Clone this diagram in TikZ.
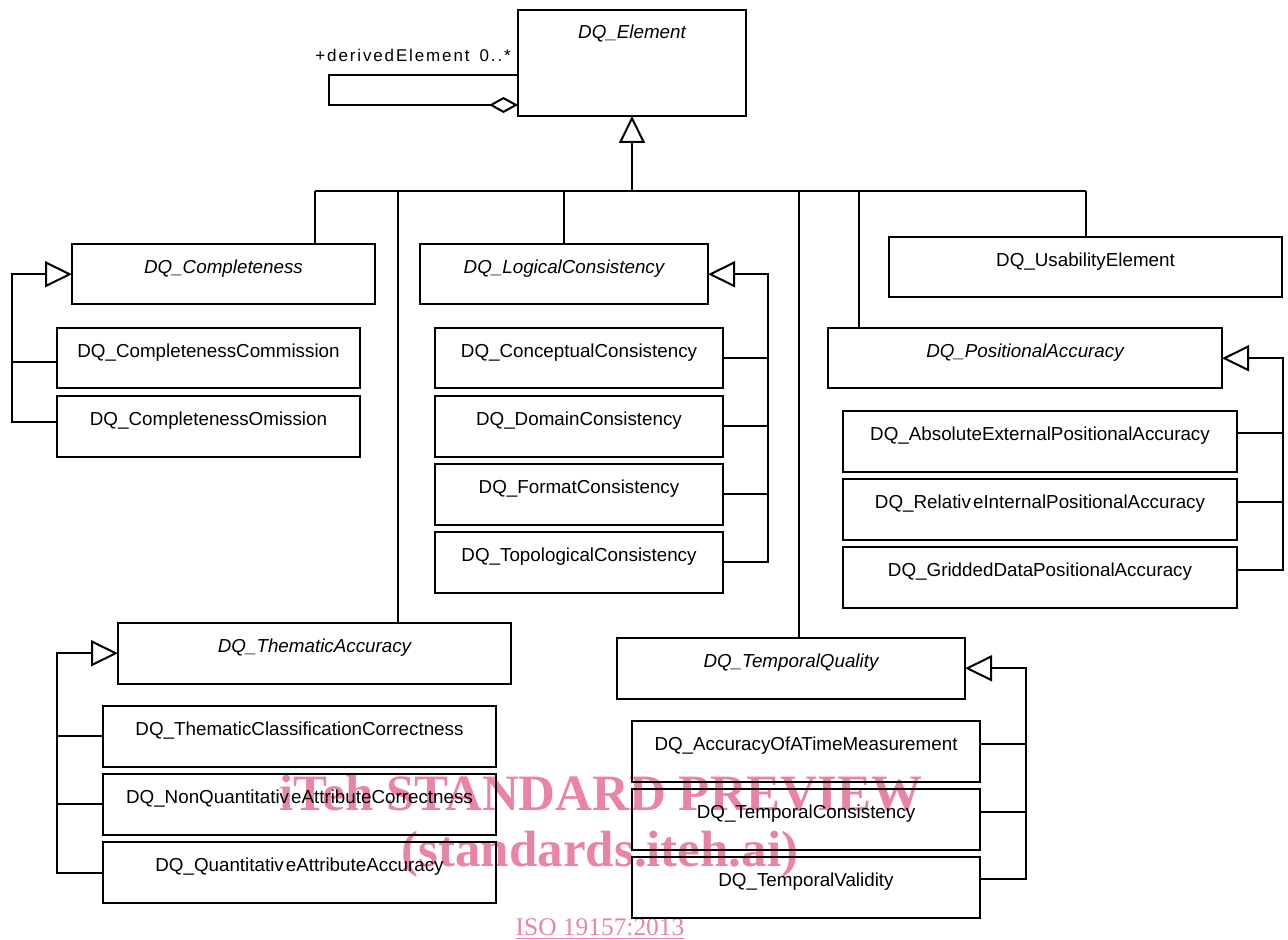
\documentclass[tikz,border=0pt]{standalone}
\usepackage{fontspec}
\setmainfont{Liberation Sans}
\newfontfamily\wmfont{Liberation Serif}
\newfontfamily\lblfont[LetterSpace=11]{Liberation Sans}
\usetikzlibrary{arrows.meta}
\definecolor{wm}{RGB}{234,132,165}
\begin{document}
\begin{tikzpicture}[x=0.5pt,y=-0.5pt,
  cls/.style={draw, line width=1pt, inner sep=0pt, outer sep=0pt, anchor=north west,
    text height=14.75pt, text depth=15.5pt, font=\fontsize{9.4}{11}\selectfont},
  abs/.style={cls, font=\fontsize{9.4}{11}\selectfont\itshape},
  ln/.style={line width=1pt},
  gen/.style={line width=1pt, -{Triangle[open, length=13.5pt, width=13pt, line width=1pt]}},
  agg/.style={line width=1pt, -{Diamond[open, length=14.5pt, width=8pt, line width=1pt]}},
  wmk/.style={text=wm, inner sep=0pt, anchor=base}]
\useasboundingbox (0,0) rectangle (1288,940);

% watermark (behind)
\node[wmk, font=\wmfont\bfseries\fontsize{25.5}{30}\selectfont] (wm1) at (601,810) {iTeh STANDARD PREVIEW};
\node[wmk, font=\wmfont\bfseries\fontsize{25.5}{30}\selectfont] (wm2) at (600,866) {(standards.iteh.ai)};
\node[wmk, font=\wmfont\fontsize{12.7}{15}\selectfont] (wm3) at (600,935) {\underline{ISO 19157:2013}};

% classes
\node[abs, minimum width=114pt, text height=14.25pt, text depth=38.75pt] (E) at (518,10) {DQ\_Element};

\node[abs, minimum width=151.5pt] (Comp) at (72,244) {DQ\_Completeness};
\node[cls, minimum width=151.5pt] (CompC) at (57,328) {DQ\_CompletenessCommission};
\node[cls, minimum width=151.5pt] (CompO) at (57,396) {DQ\_CompletenessOmission};

\node[abs, minimum width=144pt] (LC) at (420,244) {DQ\_LogicalConsistency};
\node[cls, minimum width=144pt] (CC) at (435,328) {DQ\_ConceptualConsistency};
\node[cls, minimum width=144pt] (DC) at (435,396) {DQ\_DomainConsistency};
\node[cls, minimum width=144pt] (FC) at (435,464) {DQ\_FormatConsistency};
\node[cls, minimum width=144pt] (TC) at (435,532) {DQ\_TopologicalConsistency};

\node[cls, minimum width=196.5pt] (UE) at (889,237) {DQ\_UsabilityElement};

\node[abs, minimum width=197pt] (PA) at (828,328) {DQ\_PositionalAccuracy};
\node[cls, minimum width=197pt] (AEPA) at (843,411) {DQ\_AbsoluteExternalPositionalAccuracy};
\node[cls, minimum width=197pt] (RIPA) at (843,479) {DQ\_Relativ\kern1pt eInternalPositionalAccuracy};
\node[cls, minimum width=197pt] (GDPA) at (843,547) {DQ\_GriddedDataPositionalAccuracy};

\node[abs, minimum width=196.5pt] (TA) at (118,623) {DQ\_ThematicAccuracy};
\node[cls, minimum width=196.5pt] (TCC) at (103,706) {DQ\_ThematicClassificationCorrectness};
\node[cls, minimum width=196.5pt] (NQAC) at (103,774) {DQ\_NonQuantitativ\kern1pt eAttributeCorrectness};
\node[cls, minimum width=196.5pt] (QAA) at (103,842) {DQ\_Quantitativ\kern1pt eAttributeAccuracy};

\node[abs, minimum width=174pt] (TQ) at (617,638) {DQ\_TemporalQuality};
\node[cls, minimum width=174pt] (ATM) at (632,721) {DQ\_AccuracyOfATimeMeasurement};
\node[cls, minimum width=174pt] (TCo) at (632,789) {DQ\_TemporalConsistency};
\node[cls, minimum width=174pt] (TV) at (632,857) {DQ\_TemporalValidity};

% self aggregation
\draw[agg] (E.west |- 0,75) -- (329,75) -- (329,105) -- (E.west |- 0,105);
\node[anchor=base west, inner sep=0pt, font=\lblfont\fontsize{8.5}{10}\selectfont] (lbl) at (315,62) {+derivedElement\hspace{5pt}0..*};

% main generalization tree
\coordinate (bL) at (315,191);
\coordinate (b2) at (398,191);
\coordinate (b3) at (564,191);
\coordinate (bE) at (632,191);
\coordinate (b4) at (799,191);
\coordinate (b5) at (859,191);
\coordinate (bR) at (1086,191);
\draw[ln] (bL) -- (bR);
\draw[gen] (bE) -- (bE |- E.south);
\draw[ln] (bL) -- (bL |- Comp.north);
\draw[ln] (b2) -- (b2 |- TA.north);
\draw[ln] (b3) -- (b3 |- LC.north);
\draw[ln] (b4) -- (b4 |- TQ.north);
\draw[ln] (b5) -- (b5 |- PA.north);
\draw[ln] (bR) -- (bR |- UE.north);

% completeness
\coordinate (tC) at (12,422);
\draw[gen] (CompO.west |- tC) -- (tC) -- (tC |- Comp.west) -- (Comp.west);
\draw[ln] (CompC.west |- 0,362) -- (tC |- 0,362);

% logical consistency
\coordinate (tL) at (768,562);
\draw[gen] (TC.east) -- (TC.east -| tL) -- (tL |- LC.east) -- (LC.east);
\draw[ln] (CC.east) -- (CC.east -| tL);
\draw[ln] (DC.east) -- (DC.east -| tL);
\draw[ln] (FC.east) -- (FC.east -| tL);

% positional accuracy
\coordinate (tP) at (1283,570);
\draw[gen] (GDPA.east |- tP) -- (tP) -- (tP |- PA.east) -- (PA.east);
\draw[ln] (AEPA.east |- 0,433) -- (tP |- 0,433);
\draw[ln] (RIPA.east |- 0,502) -- (tP |- 0,502);

% thematic accuracy
\coordinate (tT) at (57,873);
\draw[gen] (QAA.west |- tT) -- (tT) -- (tT |- TA.west) -- (TA.west);
\draw[ln] (TCC.west) -- (TCC.west -| tT);
\draw[ln] (NQAC.west) -- (NQAC.west -| tT);

% temporal quality
\coordinate (tQ) at (1026,879);
\draw[gen] (TV.east |- tQ) -- (tQ) -- (tQ |- TQ.east) -- (TQ.east);
\draw[ln] (ATM.east |- 0,744) -- (tQ |- 0,744);
\draw[ln] (TCo.east |- 0,812) -- (tQ |- 0,812);
\end{tikzpicture}
\end{document}
